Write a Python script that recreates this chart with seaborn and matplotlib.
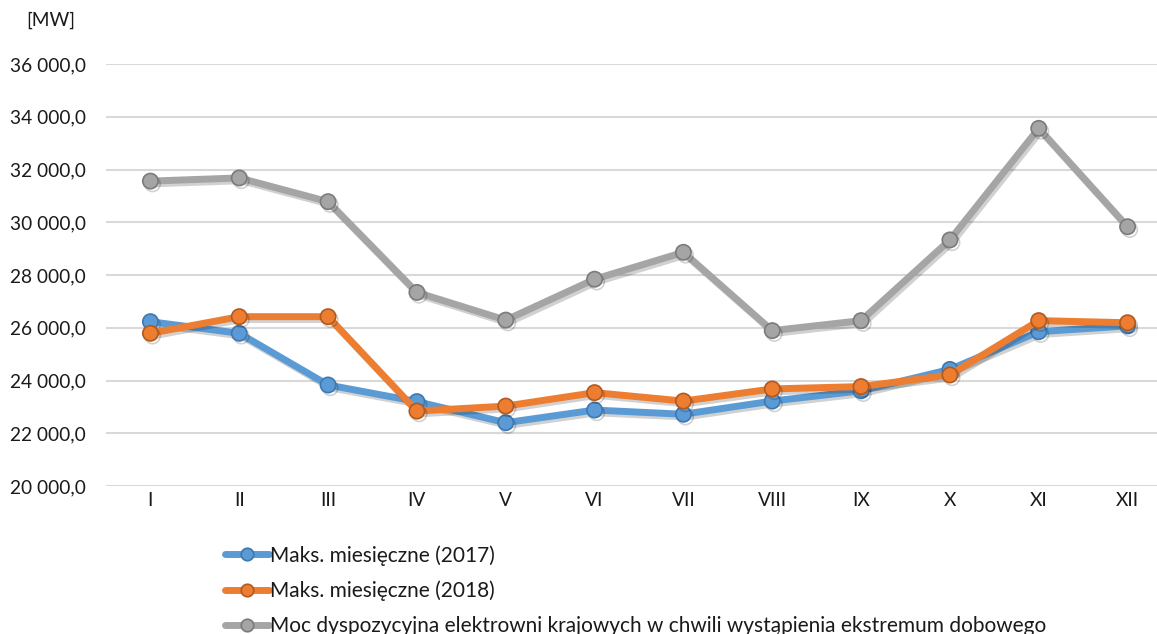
import matplotlib
matplotlib.use("Agg")
import matplotlib.pyplot as plt
import matplotlib.patheffects as pe
from matplotlib.ticker import FuncFormatter, MultipleLocator
from matplotlib.lines import Line2D
import seaborn as sns
import pandas as pd
import numpy as np

months = ["I", "II", "III", "IV", "V", "VI", "VII", "VIII", "IX", "X", "XI", "XII"]
max_2017 = [26230, 25790, 23830, 23200, 22400, 22880, 22720, 23220, 23610, 24420, 25850, 26070]
max_2018 = [25790, 26420, 26420, 22840, 23030, 23540, 23220, 23680, 23770, 24210, 26270, 26190]
moc_dysp = [31560, 31680, 30780, 27340, 26290, 27840, 28860, 25890, 26270, 29330, 33560, 29830]
labels = ["Maks. miesięczne (2017)",
          "Maks. miesięczne (2018)",
          "Moc dyspozycyjna elektrowni krajowych w chwili wystąpienia ekstremum dobowego"]

sns.set_theme(style="white")
plt.rcParams['font.family'] = ['Lato', 'DejaVu Sans']

fig = plt.figure(figsize=(11.57, 6.34), dpi=100)
ax = fig.add_axes([106/1157, 148/634, (1172-106)/1157, 422/634])

x = np.arange(len(months))
df = pd.DataFrame({
    "x": np.concatenate([x, x, x]),
    "val": max_2017 + max_2018 + moc_dysp,
    "series": [labels[0]]*12 + [labels[1]]*12 + [labels[2]]*12,
})

colors = ["#5B9BD5", "#ED7D31", "#A5A5A5"]
edges = ["#3F77B0", "#B25A1E", "#7B7B7B"]
order = [2, 0, 1]
for i in order:
    sub = df[df["series"] == labels[i]]
    sns.lineplot(data=sub, x="x", y="val", ax=ax, color=colors[i], linewidth=5,
                 marker="o", markersize=11, markerfacecolor=colors[i],
                 markeredgecolor=edges[i], markeredgewidth=1.2, label=labels[i],
                 legend=False, zorder=3 + i)

shadow = [pe.SimpleLineShadow(offset=(1.5, -2), shadow_color="black", alpha=0.18), pe.Normal()]
for ln in ax.get_lines():
    ln.set_path_effects(shadow)

ax.set_xlim(-0.5, 11.5)
ax.set_ylim(20000, 36000)
ax.yaxis.set_major_locator(MultipleLocator(2000))
ax.yaxis.set_major_formatter(FuncFormatter(lambda v, p: f"{v:,.1f}".replace(",", " ").replace(".", ",")))
ax.set_xticks(x)
ax.set_xticklabels(months)
ax.grid(axis="y", color="#D9D9D9", linewidth=1.5)
ax.set_axisbelow(True)
for s in ax.spines.values():
    s.set_visible(False)
ax.tick_params(axis="both", length=0, labelsize=13.8, labelcolor="#1a1a1a")
ax.tick_params(axis="y", pad=14.4)
ax.tick_params(axis="x", pad=4)
ax.set_xlabel("")
ax.set_ylabel("")

fig.text(51/1157, 1 - 20/634, "[MW]", ha="center", va="center", fontsize=13.8, color="#1a1a1a")

hs = [Line2D([], [], color=colors[i], linewidth=5, marker="o", markersize=9,
             markerfacecolor=colors[i], markeredgecolor=edges[i], markeredgewidth=1.2)
      for i in range(3)]
leg = fig.legend(hs, labels, loc="upper left", bbox_to_anchor=(225/1157, 1 - 545/634),
                 frameon=False, fontsize=15, handlelength=2.1, handletextpad=0.05,
                 labelspacing=0.72, borderaxespad=0, borderpad=0)
for t in leg.get_texts():
    t.set_color("#1a1a1a")

fig.savefig("out.png", dpi=100)
